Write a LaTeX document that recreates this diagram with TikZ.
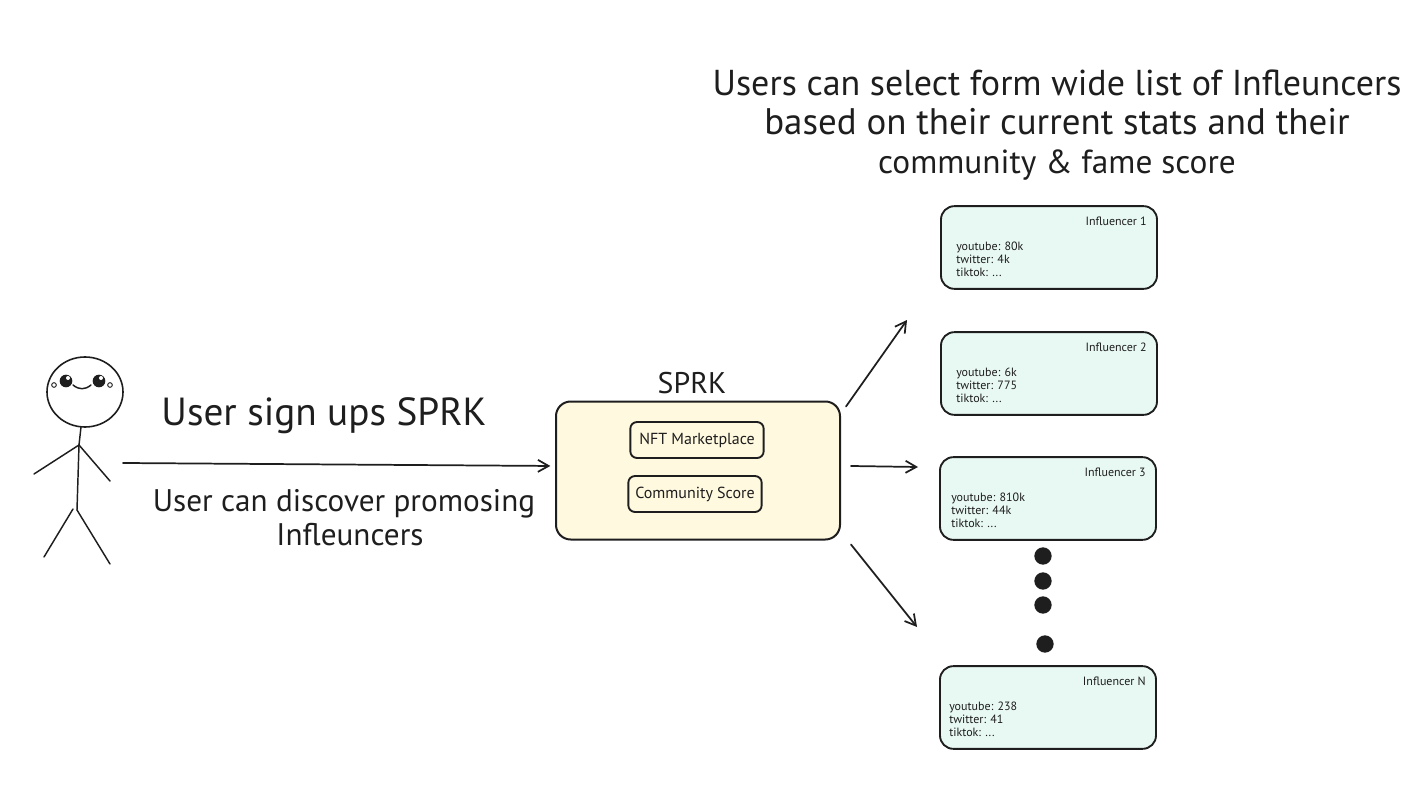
\documentclass[tikz,border=0pt]{standalone}
\usepackage{fontspec}
\setmainfont{PT Sans}
\usepackage{xcolor}
\usetikzlibrary{arrows.meta,positioning,calc,shapes.geometric}
\definecolor{ink}{HTML}{1E1E1E}
\definecolor{cream}{HTML}{FFF9DF}
\definecolor{mint}{HTML}{E8F9F3}
\newcommand{\influencercard}[8]{%
    % #1=name, #2=left, #3=top, #4=card title, #5..#7=stats, #8=stats indent
    \node[cardbox] (#1) at (#2+108,#3+41.5) {};
    \node[cardtitle, anchor=east] (#1title) at (#2+206,#3+15) {#4};
    \node[cardtext, anchor=north west] (#1stats) at (#2+#8,#3+35.5) {#5\\#6\\#7};
}

\begin{document}
\begin{tikzpicture}[x=0.75pt, y=-0.75pt, line cap=round, line join=round,
    sysbox/.style={rectangle, draw=ink, line width=1.5pt, fill=cream, rounded corners=11pt, minimum width=213pt, minimum height=103.5pt},
    innerbox/.style={rectangle, draw=ink, line width=1.4pt, fill=cream, rounded corners=5pt, minimum height=27pt, font=\fontsize{12}{14}\selectfont, text=ink, inner sep=0pt},
    cardbox/.style={rectangle, draw=ink, line width=1.4pt, fill=mint, rounded corners=10pt, minimum width=162pt, minimum height=62pt},
    cardtitle/.style={font=\fontsize{9}{11}\selectfont, text=ink, inner sep=0pt},
    cardtext/.style={font=\fontsize{9}{10}\selectfont, text=ink, align=left, inner sep=0pt},
    caption/.style={text=ink, align=center, inner sep=0pt},
    flow/.style={draw=ink, line width=1.3pt, -{Straight Barb[length=8pt,width=9pt]}},
    limb/.style={draw=ink, line width=1.1pt},
    eye/.style={circle, fill=ink, minimum size=9.5pt, inner sep=0pt},
    cheek/.style={circle, draw=ink, line width=0.7pt, minimum size=3.5pt, inner sep=0pt},
    dot/.style={circle, fill=ink, minimum size=13pt, inner sep=0pt}
]
    \useasboundingbox (0,0) rectangle (1418,806);

    % stick figure
    \node[ellipse, draw=ink, line width=1.2pt, minimum width=57pt, minimum height=52.5pt, inner sep=0pt] (head) at (85,392) {};
    \node[eye] (eyeL) at (66,381) {};
    \node[eye] (eyeR) at (99,381) {};
    \fill[white] (68,378) circle (2) (101,378) circle (2);
    \node[cheek] (cheekL) at (54,385) {};
    \node[cheek] (cheekR) at (110,385) {};
    \draw[limb] (73,385) .. controls (79,390) and (85,390) .. (91,385);
    \coordinate (neck) at (81,427);
    \coordinate (shoulder) at (79,445);
    \coordinate (hip) at (77,510);
    \draw[limb] (neck) -- (shoulder) -- (hip);
    \draw[limb] (shoulder) -- (34,474);
    \draw[limb] (shoulder) -- (110,481);
    \draw[limb] (73,509) -- (44,557);
    \draw[limb] (77,510) -- (110,564);

    % captions
    \node[caption, font=\fontsize{29.4}{34}\selectfont] (signup) at (324,416) {User sign ups SPRK};
    \node[caption, font=\fontsize{23.4}{25.5}\selectfont] (discover) at (344,518) {User can discover promosing\\\hspace*{9pt}Infleuncers};
    \node[caption, font=\fontsize{27}{29.3}\selectfont] (select) at (1057,125) {Users can select form wide list of Infleuncers\\\fontsize{27.7}{29.3}\selectfont based on their current stats and their\\\fontsize{25}{29.3}\selectfont community \& fame score};

    % platform
    \node[sysbox] (sprk) at (698,470.5) {};
    \node[caption, font=\fontsize{22.4}{26}\selectfont] (sprklabel) at (692,383) {SPRK};
    \node[innerbox, minimum width=100pt] (nft) at (697,440) {NFT Marketplace};
    \node[innerbox, minimum width=100pt] (score) at (695,494) {Community Score};

    % cards
    \influencercard{inf1}{941}{206}{Influencer 1}{youtube: 80k}{twitter: 4k}{tiktok: ...}{15}
    \influencercard{inf2}{941}{332}{Influencer 2}{youtube: 6k}{twitter: 775}{tiktok: ...}{15}
    \influencercard{inf3}{940}{457}{Influencer 3}{youtube: 810k}{twitter: 44k}{tiktok: ...}{11}
    \influencercard{infN}{940}{666}{Influencer N}{youtube: 238}{twitter: 41}{tiktok: ...}{9}

    \node[dot] (d1) at (1043,556) {};
    \node[dot] (d2) at (1043,581) {};
    \node[dot] (d3) at (1043,605) {};
    \node[dot] (d4) at (1045,644) {};

    % connectors
    \coordinate (userout) at (123,463);
    \coordinate (upend) at (907,320);
    \coordinate (midend) at (918,467);
    \coordinate (downend) at (917,627);
    \draw[flow, shorten >=3.5pt] (userout) -- (sprk.west |- 0,466);
    \draw[flow] ($(sprk.north east)+(5,6)$) -- (upend);
    \draw[flow] ($(sprk.east)+(10,-4.5)$) -- (midend);
    \draw[flow] ($(sprk.south east)+(10,4)$) -- (downend);
\end{tikzpicture}
\end{document}
